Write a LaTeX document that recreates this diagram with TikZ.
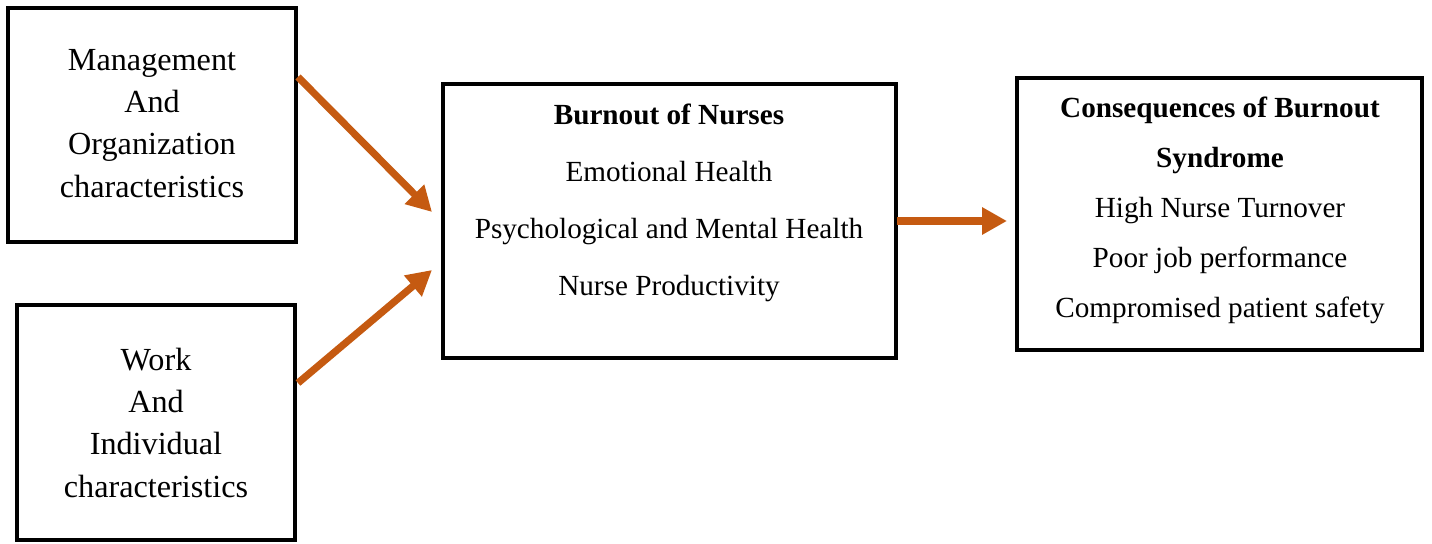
\documentclass[tikz,border=0pt]{standalone}
\usepackage{fontspec}
\setmainfont{Liberation Serif}
\usetikzlibrary{arrows.meta}
\definecolor{arroworange}{HTML}{C55A11}
\tikzset{
  box/.style={draw=black, line width=2pt, rectangle, inner sep=0pt},
  bigtxt/.style={anchor=base, inner sep=0pt, font=\fontsize{16.1}{19}\selectfont},
  smalltxt/.style={anchor=base, inner sep=0pt, font=\fontsize{14.6}{17}\selectfont},
  boldtxt/.style={anchor=base, inner sep=0pt, font=\fontsize{14.6}{17}\selectfont\bfseries},
  flow/.style={draw=arroworange, line width=3.6pt, -{Triangle[length=12.5pt,width=13pt]}}
}
\begin{document}
\begin{tikzpicture}[x=0.5pt,y=-0.5pt]
\useasboundingbox (0,0) rectangle (1432,544);
% boxes
\node[box, minimum width=144pt, minimum height=117pt] (mgmt) at (152,125) {};
\node[box, minimum width=139pt, minimum height=117.5pt] (work) at (156,423) {};
\node[box, minimum width=226.5pt, minimum height=137pt] (burn) at (669.5,221) {};
\node[box, minimum width=202.5pt, minimum height=136pt] (cons) at (1219.5,214) {};
% box 1 text
\node[bigtxt] (m1) at (152,71) {Management};
\node[bigtxt] (m2) at (152,113) {And};
\node[bigtxt] (m3) at (152,155) {Organization};
\node[bigtxt] (m4) at (152,198) {characteristics};
% box 2 text
\node[bigtxt] (w1) at (156,371) {Work};
\node[bigtxt] (w2) at (156,413) {And};
\node[bigtxt] (w3) at (156,455) {Individual};
\node[bigtxt] (w4) at (156,498) {characteristics};
% box 3 text
\node[boldtxt] (b1) at (669,125) {Burnout of Nurses};
\node[smalltxt] (b2) at (669,182) {Emotional Health};
\node[smalltxt] (b3) at (669,239) {Psychological and Mental Health};
\node[smalltxt] (b4) at (669,296) {Nurse Productivity};
% box 4 text
\node[boldtxt] (c1) at (1220,118) {Consequences of Burnout};
\node[boldtxt] (c2) at (1220,168) {Syndrome};
\node[smalltxt] (c3) at (1220,218) {High Nurse Turnover};
\node[smalltxt] (c4) at (1220,268) {Poor job performance};
\node[smalltxt] (c5) at (1220,318) {Compromised patient safety};
% arrow end points
\coordinate (a1s) at (298,77);
\coordinate (a1e) at (432,212);
\coordinate (a2s) at (298,383);
\coordinate (a2e) at (432,270);
\coordinate (a3s) at (897,221);
\coordinate (a3e) at (1007,221);
\draw[flow] (a1s) -- (a1e);
\draw[flow] (a2s) -- (a2e);
\draw[flow] (a3s) -- (a3e);
\end{tikzpicture}
\end{document}
